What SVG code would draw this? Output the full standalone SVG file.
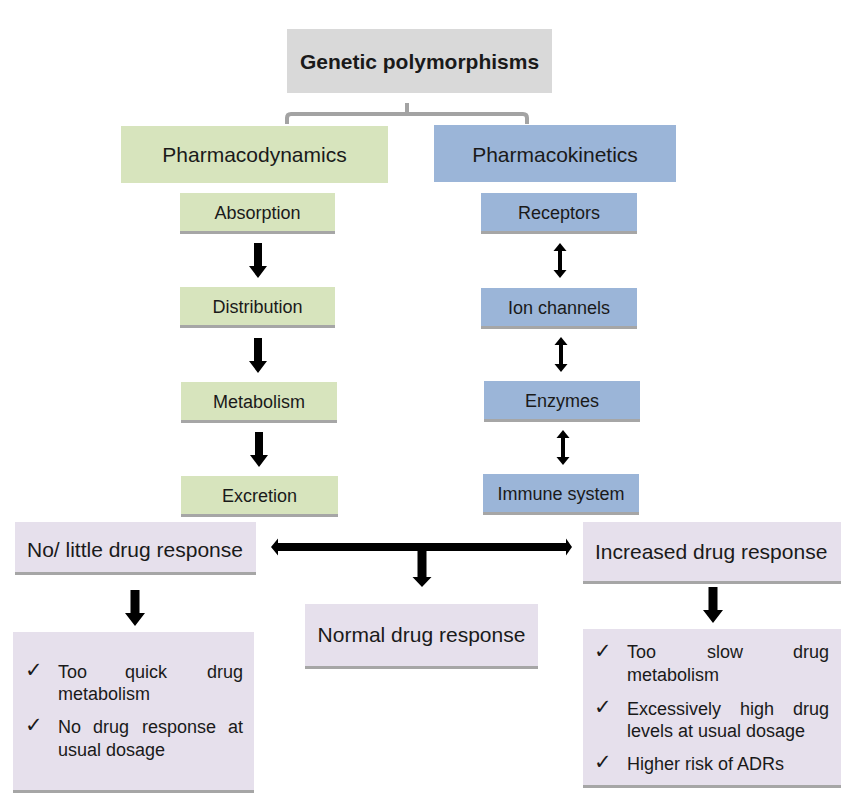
<svg xmlns="http://www.w3.org/2000/svg" xmlns:xlink="http://www.w3.org/1999/xlink" width="856" height="808" viewBox="0 0 856 808">
<style>
  text { font-family: "Liberation Sans", Arial, sans-serif; fill: #1a1a1a; }
  .gray { fill: #d9d9d9; }
  .green { fill: #d7e4bd; }
  .blue { fill: #9bb5d8; }
  .lav { fill: #e6e0ec; }
  .shadow { fill: #a6a6a6; }
  .h1 { font-size: 21px; font-weight: bold; text-anchor: middle; }
  .h2 { font-size: 21px; text-anchor: middle; }
  .sub { font-size: 18px; text-anchor: middle; }
  .resp { font-size: 21px; }
  .li { font-size: 18px; }
  .chk { font-family: "DejaVu Sans", sans-serif; font-size: 21px; }
  .arrow { fill: #000; }
  .bracket { fill: none; stroke: #a3a3a3; stroke-width: 4; }
</style>
<defs>
  <path id="down" d="M-4,0 H4 V23 H9 L0,35 L-9,23 H-4 Z"/>
  <path id="dbl" d="M0,0 L6.5,8 H2 V27 H6.5 L0,35 L-6.5,27 H-2 V8 H-6.5 Z"/>
  <path id="downBig" d="M-4.5,0 H4.5 V23 H10 L0,36 L-10,23 H-4.5 Z"/>
</defs>

<g id="connectors">
  <path class="bracket" d="M287,124 V118 Q287,114 291,114 H523 Q527,114 527,118 V124 M407,103 V114"/>
  <use href="#down" class="arrow" x="258" y="243"/>
  <use href="#down" class="arrow" x="258" y="338"/>
  <use href="#down" class="arrow" x="259" y="432"/>
  <use href="#dbl" class="arrow" x="560" y="243"/>
  <use href="#dbl" class="arrow" x="561" y="337"/>
  <use href="#dbl" class="arrow" x="563" y="430"/>
  <path class="arrow" d="M271,547 L278,538.5 V543 H566 V538.5 L572,547 L566,555.5 V551 H278 V555.5 Z"/>
  <path class="arrow" d="M417.5,550 H426.5 V577 H431.5 L422,587 L412.5,577 H417.5 Z"/>
  <use href="#downBig" class="arrow" x="135" y="590"/>
  <use href="#downBig" class="arrow" x="713" y="587"/>
</g>

<g id="genetic">
  <rect class="gray" x="287" y="29" width="265" height="64"/>
  <text class="h1" x="419.5" y="69">Genetic polymorphisms</text>
</g>
<g id="pharmacodynamics">
  <rect class="green" x="121" y="126" width="267" height="57"/>
  <text class="h2" x="254.5" y="162">Pharmacodynamics</text>
</g>
<g id="pharmacokinetics">
  <rect class="blue" x="434" y="125" width="242" height="57"/>
  <text class="h2" x="555" y="162">Pharmacokinetics</text>
</g>

<g id="absorption">
  <rect class="green" x="180" y="193" width="155" height="38"/>
  <rect class="shadow" x="180" y="231" width="155" height="3"/>
  <text class="sub" x="257.5" y="219">Absorption</text>
</g>
<g id="distribution">
  <rect class="green" x="180" y="287" width="155" height="38"/>
  <rect class="shadow" x="180" y="325" width="155" height="3"/>
  <text class="sub" x="257.5" y="313">Distribution</text>
</g>
<g id="metabolism">
  <rect class="green" x="181" y="382" width="156" height="38"/>
  <rect class="shadow" x="181" y="420" width="156" height="3"/>
  <text class="sub" x="259" y="408">Metabolism</text>
</g>
<g id="excretion">
  <rect class="green" x="181" y="476" width="157" height="38"/>
  <rect class="shadow" x="181" y="514" width="157" height="3"/>
  <text class="sub" x="259.5" y="502">Excretion</text>
</g>

<g id="receptors">
  <rect class="blue" x="481" y="193" width="156" height="38"/>
  <rect class="shadow" x="481" y="231" width="156" height="3"/>
  <text class="sub" x="559" y="219">Receptors</text>
</g>
<g id="ion-channels">
  <rect class="blue" x="481" y="288" width="156" height="38"/>
  <rect class="shadow" x="481" y="326" width="156" height="3"/>
  <text class="sub" x="559" y="314">Ion channels</text>
</g>
<g id="enzymes">
  <rect class="blue" x="484" y="381" width="156" height="38"/>
  <rect class="shadow" x="484" y="419" width="156" height="3"/>
  <text class="sub" x="562" y="407">Enzymes</text>
</g>
<g id="immune-system">
  <rect class="blue" x="483" y="474" width="156" height="38"/>
  <rect class="shadow" x="483" y="512" width="156" height="3"/>
  <text class="sub" x="561" y="500">Immune system</text>
</g>

<g id="no-little-response">
  <rect class="lav" x="15" y="522" width="241" height="50"/>
  <rect class="shadow" x="15" y="572" width="241" height="3"/>
  <text class="resp" x="27" y="557">No/ little drug response</text>
</g>
<g id="increased-response">
  <rect class="lav" x="583" y="522" width="258" height="59"/>
  <rect class="shadow" x="583" y="581" width="258" height="3"/>
  <text class="resp" x="595" y="559">Increased drug response</text>
</g>
<g id="normal-response">
  <rect class="lav" x="305" y="604" width="233" height="62"/>
  <rect class="shadow" x="305" y="666" width="233" height="3"/>
  <text class="resp" x="421.5" y="642" text-anchor="middle">Normal drug response</text>
</g>

<g id="low-details">
  <rect class="lav" x="13" y="632" width="241" height="158"/>
  <rect class="shadow" x="13" y="790" width="241" height="3"/>
  <text class="chk" x="25" y="677">✓</text>
  <text class="li" y="678"><tspan x="58">Too</tspan><tspan x="125">quick</tspan><tspan x="243" text-anchor="end">drug</tspan></text>
  <text class="li" x="58" y="700">metabolism</text>
  <text class="chk" x="25" y="732">✓</text>
  <text class="li" y="733"><tspan x="58">No</tspan><tspan x="93">drug</tspan><tspan x="142">response</tspan><tspan x="243" text-anchor="end">at</tspan></text>
  <text class="li" x="58" y="756">usual dosage</text>
</g>

<g id="high-details">
  <rect class="lav" x="583" y="629" width="258" height="156"/>
  <rect class="shadow" x="583" y="785" width="258" height="3"/>
  <text class="chk" x="594" y="658">✓</text>
  <text class="li" y="658"><tspan x="627">Too</tspan><tspan x="707">slow</tspan><tspan x="829" text-anchor="end">drug</tspan></text>
  <text class="li" x="627" y="681">metabolism</text>
  <text class="chk" x="594" y="714">✓</text>
  <text class="li" y="715"><tspan x="627">Excessively</tspan><tspan x="740">high</tspan><tspan x="829" text-anchor="end">drug</tspan></text>
  <text class="li" x="627" y="737">levels at usual dosage</text>
  <text class="chk" x="594" y="769">✓</text>
  <text class="li" x="627" y="770">Higher risk of ADRs</text>
</g>
</svg>
